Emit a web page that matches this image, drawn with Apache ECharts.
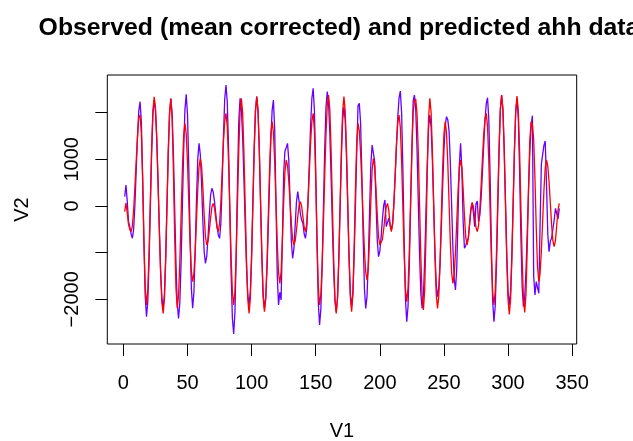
<!DOCTYPE html>
<html>
<head>
<meta charset="utf-8">
<script src="https://cdn.jsdelivr.net/npm/echarts@6/dist/echarts.min.js"></script>
<style>
html,body{margin:0;padding:0;background:#fff;}
#chart{width:633px;height:441px;}
</style>
</head>
<body>
<div id="chart"></div>
<script>
// Observed (mean corrected) ahh data, V1 = 1..340
var observed = [
200,450,100,-335,-450,-600,-690,-494,41,773,
1504,2039,2235,1797,646,-783,-1934,-2372,-2061,-1212,
-51,1110,1959,2270,2047,1432,535,-455,-1351,-1967,
-2190,-1889,-1068,55,1177,1999,2300,1985,1123,-53,
-1230,-2092,-2407,-2085,-1207,-7,1193,2071,2393,1958,
812,-609,-1755,-2190,-1854,-971,124,1007,1343,1099,
456,-342,-985,-1229,-1076,-674,-176,226,379,307,
111,-157,-425,-621,-693,-381,441,1459,2281,2593,
2234,1254,-86,-1425,-2405,-2744,-2282,-1015,558,1825,
2307,2086,1475,585,-399,-1289,-1900,-2121,-1822,-1005,
111,1227,2044,2343,2039,1209,75,-1059,-1889,-2193,
-1970,-1354,-456,535,1432,2048,2271,1630,75,-1480,
-2121,-1850,-2014,-700,700,1180,1250,1343,983,111,
-761,-1121,-912,-407,99,307,100,-157,-300,-371,
-600,-693,-478,111,915,1718,2303,2522,2040,772,
-800,-2068,-2550,-2215,-1300,-50,1200,2115,2450,2214,
1564,616,-431,-1379,-2029,-2265,-1971,-1167,-68,1030,
1834,2128,1841,1057,-14,-1086,-1870,-2157,-1863,-1059,
39,1137,2150,2200,1783,684,-677,-1776,-2193,-1943,
-1200,-100,900,1307,1300,952,107,-738,-1086,-971,
-667,-290,14,129,-443,-350,-264,-400,-514,-365,
46,644,1306,1904,2315,2464,1994,759,-774,-2009,
-2479,-2154,-1264,-50,1165,2250,2379,2073,1236,93,
-1050,-1887,-2193,-1915,-1157,-122,914,1672,1950,1689,
977,4,-970,-1682,-1943,-1750,-1218,-443,414,1189,
1720,1914,1850,1605,938,25,-888,-1555,-1800,-1341,
-229,884,1343,780,-344,-907,-850,-750,-693,-400,
-100,57,-150,-443,50,107,-336,-203,164,698,
1287,1821,2188,2321,1865,665,-823,-2023,-2479,-2154,
-1264,-50,1165,2056,2379,2079,1254,129,-996,-1821,
-2121,-1826,-1014,93,1200,2012,2307,1883,767,-617,
-1733,-2157,-1952,-1388,-565,344,1167,1731,1936,-1500,
-1907,-1622,-1750,-1871,-400,900,1100,1300,1393,500,
-600,-979,-750,-690,-690,-300,-50,-64,-279,-50
];
// Predicted ahh data
var predicted = [
-120,65,-150,-400,-500,-550,-425,-80,423,978,
1480,1900,1950,1563,546,-716,-1733,-2120,-1821,-1005,
110,1225,2041,2340,2108,1468,535,-495,-1428,-2068,
-2300,-1992,-1150,0,1150,1992,2300,1873,751,-641,
-1763,-2190,-1925,-1200,-209,782,1507,1772,1545,924,
75,-774,-1395,-1622,-1445,-961,-300,361,845,1022,
845,381,-195,-659,-836,-751,-528,-251,-28,57,
-32,-247,-461,-550,-380,84,718,1352,1816,1986,
1711,959,-68,-1094,-1846,-2121,-1826,-1014,93,1200,
2012,2307,1998,1155,3,-1148,-1991,-2300,-1989,-1139,
21,1182,2032,2343,2034,1191,39,-1112,-1955,-2264,
-1991,-1246,-229,789,1534,1807,1575,941,75,-791,
-1425,-1657,-1406,-745,74,735,986,864,531,75,
-380,-713,-836,-748,-515,-228,5,93,-1,-229,
-456,-550,-380,84,718,1352,1816,1986,1596,569,
-704,-1731,-2121,-1896,-1275,-371,629,1533,2154,2379,
2066,1209,40,-1130,-1987,-2300,-1989,-1139,21,1182,
2032,2343,2034,1191,39,-1112,-1955,-2264,-1881,-872,
380,1389,1772,1604,1141,466,-280,-955,-1418,-1586,
-1338,-686,122,774,1022,845,381,-195,-659,-836,
-800,-718,-504,-239,-25,57,-95,-398,-550,-383,
75,700,1325,1783,1950,1683,950,-50,-1050,-1783,
-2050,-1759,-964,122,1207,2002,2250,2293,1990,1163,
32,-1099,-1926,-2229,-1798,-664,742,1876,2307,2007,
1182,57,-1068,-1893,-2193,-1926,-1193,-193,807,1540,
1807,1575,941,75,-791,-1425,-1657,-1480,-996,-336,
325,807,986,813,357,-207,-663,-836,-702,-379,
-55,79,-13,-236,-458,-550,-423,-73,436,1000,
1509,1859,1986,1711,959,-68,-1094,-1846,-2121,-1821,
-996,129,1254,2079,2379,2064,1204,29,-1147,-2007,
-2322,-2009,-1152,18,1187,2044,2357,2046,1198,39,
-1120,-1968,-2279,-1891,-869,397,1419,1807,1750,1430,
587,-459,-1302,-1622,-1447,-970,-318,334,811,986,
862,521,57,-408,-750,-872,-736,-408,-79,57
];
var xTicks = [0, 50, 100, 150, 200, 250, 300, 350];
var yTicks = [-2000, -1000, 0, 1000, 2000];
var yTickLabels = [-2000, 0, 1000];

function pairs(arr) {
  var out = [];
  for (var i = 0; i < arr.length; i++) out.push([i + 1, arr[i]]);
  return out;
}

var chart = echarts.init(document.getElementById('chart'), null, {renderer: 'canvas'});
var fontFam = '"Liberation Sans", Arial, Helvetica, sans-serif';
chart.setOption({
  animation: false,
  backgroundColor: '#ffffff',
  title: {
    text: 'Observed (mean corrected) and predicted ahh data',
    left: 334,
    textAlign: 'center',
    top: 11,
    textStyle: {fontFamily: fontFam, fontSize: 24.8, fontWeight: 'bold', color: '#000'}
  },
  grid: {
    left: 107.3, right: 56.3, top: 75, bottom: 97,
    show: true, borderColor: '#000', borderWidth: 1,
    containLabel: false, outerBoundsMode: 'none'
  },
  xAxis: {
    type: 'value',
    min: -12.56, max: 353.56,
    name: 'V1', nameLocation: 'middle', nameGap: 77,
    nameTextStyle: {fontFamily: fontFam, fontSize: 20, color: '#000'},
    axisLine: {show: false, onZero: false},
    splitLine: {show: false},
    axisTick: {show: true, length: 12, customValues: xTicks, lineStyle: {color: '#000', width: 1}},
    axisLabel: {customValues: xTicks, margin: 29, fontFamily: fontFam, fontSize: 20, color: '#000'}
  },
  yAxis: {
    type: 'value',
    min: -2957, max: 2807,
    name: 'V2', nameLocation: 'middle', nameGap: 75,
    nameTextStyle: {fontFamily: fontFam, fontSize: 20, color: '#000'},
    axisLine: {show: false, onZero: false},
    splitLine: {show: false},
    axisTick: {show: true, length: 12, customValues: yTicks, lineStyle: {color: '#000', width: 1}},
    axisLabel: {
      customValues: yTickLabels, rotate: 90, margin: 25,
      fontFamily: fontFam, fontSize: 20, color: '#000',
      formatter: function (v) { return String(v).replace('-', '\u2212'); }
    }
  },
  series: [
    {type: 'line', name: 'observed', data: pairs(observed), showSymbol: false, symbol: 'none',
     lineStyle: {color: '#6600ff', width: 1.3}, itemStyle: {color: '#6600ff'}},
    {type: 'line', name: 'predicted', data: pairs(predicted), showSymbol: false, symbol: 'none',
     lineStyle: {color: '#ff0000', width: 1.3}, itemStyle: {color: '#ff0000'}}
  ]
});
</script>
</body>
</html>
